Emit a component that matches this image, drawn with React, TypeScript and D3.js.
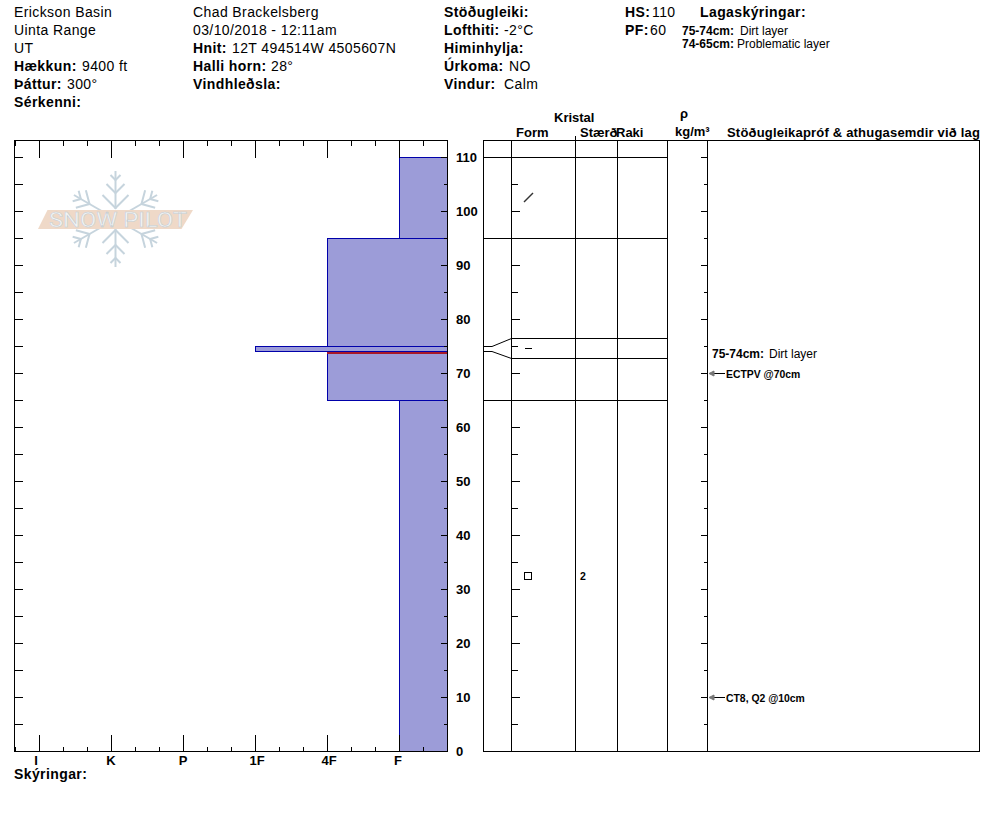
import React, { useEffect, useRef } from 'react';
import * as d3 from 'd3';

const width = 994;
const height = 840;

// hand hardness scale
const hardnessLabels = ['I', 'K', 'P', '1F', '4F', 'F'];
const hardnessMinor = ['', 'I', '', '', 'K', '', '', 'P', '', '', '1F', '', '', '4F', '', '', 'F', '', ''];

// layers, cm from the ground
const layerBottoms = [0, 65, 74, 75, 95];
const layerTops = [65, 74, 75, 95, 110];
const layerHardness = ['F', '4F', '1F', '4F', 'F'];
const problemLayerDepth = 74;

const depthTicks = d3.range(0, 115, 5);
const depthLabels = d3.range(0, 120, 10);

// rows of the crystal table
const rowLines = [110, 95, 76.5, 72.8, 65];
const fannedLayer = [75, 74];

const crystalDepths = [102.5, 74.6, 32.5];
const crystalForms = ['slash', 'dash', 'square'];
const crystalSizes = ['', '', '2'];

const testDepths = [70, 10];
const testNotes = ['ECTPV @70cm', 'CT8, Q2 @10cm'];

type Piece = [string, number, number, boolean?, number?];

// label, x, baseline, bold, font size
const headerText: Piece[] = [
  ['Erickson Basin', 14, 17],
  ['Uinta Range', 14, 35],
  ['UT', 14, 53],
  ['Hækkun:', 14, 71, true],
  ['9400 ft', 82, 71],
  ['Þáttur:', 14, 89, true],
  ['300°', 67, 89],
  ['Sérkenni:', 14, 107, true],
  ['Chad Brackelsberg', 193, 17],
  ['03/10/2018 - 12:11am', 193, 35],
  ['Hnit:', 193, 53, true],
  ['12T 494514W 4505607N', 232, 53],
  ['Halli horn:', 193, 71, true],
  ['28°', 271, 71],
  ['Vindhleðsla:', 193, 89, true],
  ['Stöðugleiki:', 444, 17, true],
  ['Lofthiti:', 444, 35, true],
  ['-2°C', 504, 35],
  ['Himinhylja:', 444, 53, true],
  ['Úrkoma:', 444, 71, true],
  ['NO', 509, 71],
  ['Vindur:', 444, 89, true],
  ['Calm', 504, 89],
  ['HS:', 625, 17, true],
  ['110', 652, 17],
  ['PF:', 625, 35, true],
  ['60', 650, 35],
  ['Lagaskýringar:', 700, 17, true],
  ['75-74cm:', 682, 35, true, 12],
  ['Dirt layer', 740, 35, false, 12],
  ['74-65cm:', 682, 48, true, 12],
  ['Problematic layer', 737, 48, false, 12],
  ['Skýringar:', 14, 779, true],
  ['Kristal', 554, 122, true, 13],
  ['Form', 516, 137, true, 13],
  ['Stærð', 580, 137, true, 13],
  ['Raki', 616, 137, true, 13],
  ['ρ', 680, 118, true, 13],
  ['kg/m³', 675, 136, true, 13],
  ['Stöðugleikapróf & athugasemdir við lag', 727, 137, true, 13],
  ['75-74cm:', 712, 358, true, 12],
  ['Dirt layer', 769, 358, false, 12]
];

const App = () => {
  const ref = useRef<SVGSVGElement>(null);

  useEffect(() => {
    const svg = d3.select(ref.current);
    svg.selectAll('*').remove();

    const y = d3.scaleLinear().domain([0, 110]).range([751, 157]);
    const top = 140.5;
    const bottom = 751.5;

    const x = d3
      .scalePoint<string>()
      .domain(hardnessMinor.map((d, i) => d || `m${i}`))
      .range([15, 447]);
    const hx = (h: string) => x(h) as number;

    const txt = svg.append('g').style('font-family', '"Liberation Sans", Arial, sans-serif').attr('fill', '#000');

    // logo
    const logo = svg.append('g').attr('transform', 'translate(115.5,219)');
    const flake = logo.append('g').attr('stroke', '#c6d4dd').attr('stroke-width', 2).attr('fill', 'none');
    d3.range(6).forEach((i) => {
      const arm = flake.append('g').attr('transform', `rotate(${i * 60})`);
      arm.append('line').attr('x1', 0).attr('y1', -10).attr('x2', 0).attr('y2', -48);
      const vertical = i % 3 === 0;
      (vertical ? [-11, -26, -39] : [-30, -40]).forEach((b, j) => {
        const s = vertical ? [13, 9, 5][j] : [10, 6][j];
        arm.append('path').attr('d', `M${-s},${b - s} L0,${b} L${s},${b - s}`);
      });
    });
    logo
      .append('path')
      .attr('d', 'M-68,-9 L77.5,-9 L66,10 L-77.5,10 Z')
      .attr('fill', '#efd9c8');
    logo
      .append('text')
      .attr('x', 2.5)
      .attr('y', 8)
      .attr('text-anchor', 'middle')
      .style('font-family', 'Roboto, "Liberation Sans", sans-serif')
      .style('font-weight', 400)
      .attr('font-size', 21)
      .attr('textLength', 138)
      .attr('lengthAdjust', 'spacingAndGlyphs')
      .attr('fill', '#f2f4f5')
      .attr('stroke', '#c4cbd0')
      .attr('stroke-width', 0.5)
      .text('SNOW PILOT');

    // layer profile
    const layers = svg.append('g').attr('shape-rendering', 'crispEdges');
    layers
      .selectAll('rect')
      .data(layerBottoms)
      .enter()
      .append('rect')
      .attr('x', (d, i) => hx(layerHardness[i]))
      .attr('y', (d, i) => y(layerTops[i]))
      .attr('width', (d, i) => 447.5 - hx(layerHardness[i]))
      .attr('height', (d, i) => y(d) - y(layerTops[i]))
      .attr('fill', '#9c9cd8')
      .attr('stroke', '#0000aa');
    layers
      .append('rect')
      .attr('x', hx('4F'))
      .attr('y', Math.round(y(problemLayerDepth)) + 1)
      .attr('width', 447.5 - hx('4F'))
      .attr('height', 2)
      .attr('fill', '#a8182a');

    const axes = svg.append('g').attr('shape-rendering', 'crispEdges').attr('stroke', '#000').attr('fill', 'none');

    // left panel frame and hardness ticks
    axes.append('rect').attr('x', 14.5).attr('y', top).attr('width', 433).attr('height', bottom - top);
    hardnessMinor.forEach((h, i) => {
      const px = Math.round(x(h || `m${i}`) as number) + 0.5;
      const len = h ? 17 : 5;
      axes.append('line').attr('x1', px).attr('x2', px).attr('y1', top).attr('y2', top + len);
      axes.append('line').attr('x1', px).attr('x2', px).attr('y1', bottom).attr('y2', bottom - len);
    });

    // depth ticks on each side of the panels
    depthTicks.forEach((d) => {
      const py = Math.round(y(d)) + 0.5;
      const major = d % 10 === 0;
      const tick = (x1: number, x2: number) => axes.append('line').attr('x1', x1).attr('x2', x2).attr('y1', py).attr('y2', py);
      tick(14.5, 22.5);
      tick(447.5, major ? 440.5 : 443.5);
      tick(511.5, major ? 519.5 : 517.5);
      tick(707.5, major ? 700.5 : 703.5);
    });

    // right panel
    axes.append('rect').attr('x', 483.5).attr('y', top).attr('width', 496).attr('height', bottom - top);
    [511.5, 575.5, 617.5, 667.5, 707.5].forEach((cx) => {
      axes.append('line').attr('x1', cx).attr('x2', cx).attr('y1', top).attr('y2', bottom);
    });
    axes.append('line').attr('x1', 575.5).attr('x2', 575.5).attr('y1', 136).attr('y2', top);
    rowLines.forEach((d) => {
      const py = Math.round(y(d)) + 0.5;
      const fanned = d === 76.5 || d === 72.8;
      axes.append('line').attr('x1', fanned ? 511.5 : 483.5).attr('x2', 667.5).attr('y1', py).attr('y2', py);
    });

    // connectors from the real depth to the table row
    const fan = svg.append('g').attr('stroke', '#000').attr('fill', 'none');
    fannedLayer.forEach((d, i) => {
      const line = d3.line<[number, number]>();
      const py = Math.round(y(d)) + 0.5;
      fan.append('path').attr('d', line([[483.5, py], [492, py], [511.5, Math.round(y(rowLines[2 + i])) + 0.5]]) as string);
    });

    // crystal symbols
    const marks = svg.append('g').attr('fill', 'none').attr('stroke', '#000');
    crystalDepths.forEach((d, i) => {
      const py = Math.round(y(d));
      if (crystalForms[i] === 'slash') {
        marks.append('path').attr('d', d3.line()([[524, py + 4], [533, py - 5]]) as string).attr('stroke', '#333').attr('stroke-width', 1.4);
      } else if (crystalForms[i] === 'dash') {
        marks.append('path').attr('d', d3.line()([[525, py + 0.5], [532, py + 0.5]]) as string);
      } else {
        marks.append('rect').attr('x', 524.5).attr('y', py - 3.5).attr('width', 7).attr('height', 7).attr('shape-rendering', 'crispEdges');
      }
      if (crystalSizes[i]) {
        txt.append('text').attr('x', 580).attr('y', py + 4).attr('font-size', 10.5).attr('font-weight', 'bold').text(crystalSizes[i]);
      }
    });

    // stability tests
    testDepths.forEach((d, i) => {
      const py = Math.round(y(d)) + 0.5;
      marks.append('path').attr('d', d3.line()([[713, py], [725, py]]) as string).attr('stroke', '#000').attr('shape-rendering', 'crispEdges');
      marks.append('path').attr('d', `M709,${py} L714,${py - 2.5} L714,${py + 2.5} Z`).attr('fill', '#777').attr('stroke', '#777');
      txt.append('text').attr('x', 726).attr('y', py + 4).attr('font-size', 10.4).attr('font-weight', 'bold').text(testNotes[i]);
    });

    // tick labels
    depthLabels.forEach((d) => {
      txt.append('text').attr('x', 456).attr('y', y(d) + 4.5).attr('font-size', 13).attr('font-weight', 'bold').text(d);
    });
    hardnessLabels.forEach((h) => {
      txt.append('text').attr('x', hx(h) - (h === 'I' ? 3 : h === 'F' ? 1 : h === 'K' || h === 'P' ? 0 : -2)).attr('y', 765).attr('text-anchor', 'middle').attr('font-size', 13).attr('font-weight', 'bold').text(h);
    });

    headerText.forEach(([label, px, py, bold, size]) => {
      txt
        .append('text')
        .attr('x', px)
        .attr('y', py)
        .attr('font-size', size || 14)
        .attr('letter-spacing', size === 13 && label.length > 20 ? 0.2 : size ? 0 : 0.4)
        .attr('font-weight', bold ? 'bold' : 'normal')
        .text(label);
    });
    txt.raise();
  }, []);

  return <svg ref={ref} width={width} height={height} style={{ position: 'absolute', left: 0, top: 0, background: '#fff' }} />;
};

export default App;
